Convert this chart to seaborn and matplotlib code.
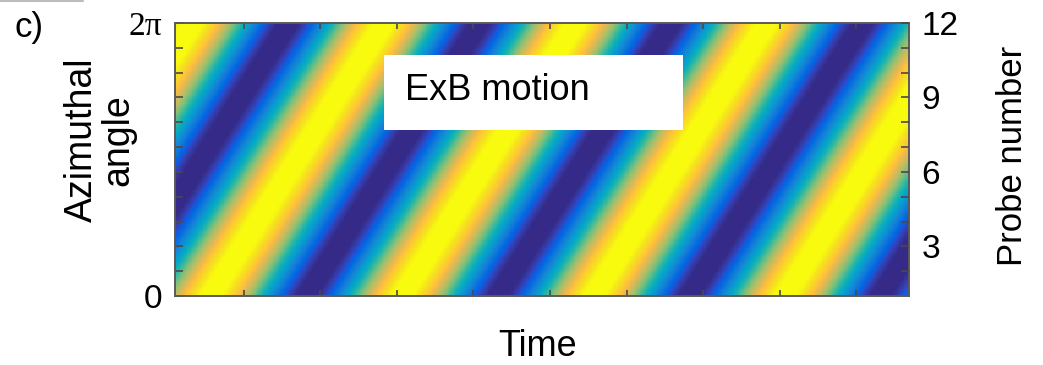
import numpy as np
import matplotlib
matplotlib.use("Agg")
import matplotlib.pyplot as plt
from matplotlib.colors import LinearSegmentedColormap
from matplotlib.patches import Rectangle
from matplotlib.lines import Line2D
import seaborn as sns

# ---------------- data ----------------
probe_numbers = [1, 2, 3, 4, 5, 6, 7, 8, 9, 10, 11, 12]
# time of the first maximum (yellow crest) seen at each probe
peak_times = [0.57, 0.78, 0.98, 1.19, 1.39, 1.60, 1.80, 2.01, 2.21, 2.42, 2.62, 2.83]
wave_period = 2.5
time_range = [0.11, 9.68]
n_time_samples = 600
n_probe_samples = 240
time_ticks = [1, 2, 3, 4, 5, 6, 7, 8, 9]
angle_tick_labels = ["0", "2π"]
probe_tick_values = [3, 6, 9, 12]
probe_minor_ticks = [2, 4, 5, 7, 8, 10, 11]
color_limits = [-0.95, 0.95]
annotation_text = "ExB motion"
panel_label = "c)"

# MATLAB parula colormap anchors
parula_anchors = [
    (0.2081, 0.1663, 0.5292), (0.2081, 0.2386, 0.6771), (0.1253, 0.3242, 0.8303),
    (0.0591, 0.3598, 0.8683), (0.0060, 0.4086, 0.8828), (0.0498, 0.4586, 0.8641),
    (0.0779, 0.5040, 0.8384), (0.0641, 0.5570, 0.8240), (0.0265, 0.6137, 0.8135),
    (0.0228, 0.6535, 0.7768), (0.0590, 0.6838, 0.7254), (0.1453, 0.7098, 0.6646),
    (0.2586, 0.7317, 0.5954), (0.3953, 0.7459, 0.5244), (0.5300, 0.7491, 0.4661),
    (0.6473, 0.7456, 0.4188), (0.7525, 0.7384, 0.3768), (0.8507, 0.7299, 0.3360),
    (0.9450, 0.7261, 0.2886), (0.9990, 0.7653, 0.2164), (0.9789, 0.8271, 0.1633),
    (0.9589, 0.8949, 0.1132), (0.9763, 0.9831, 0.0538),
]
parula_pos = [0, 3, 6, 7, 9, 12, 15, 18, 21, 24, 27, 30, 33, 36, 39, 42, 45, 48, 51, 54, 57, 60, 63]
parula = LinearSegmentedColormap.from_list(
    "parula", [(p / 63.0, c) for p, c in zip(parula_pos, parula_anchors)], N=256)

# ---------------- field (m = 1 wave travelling over the probe ring) ----------------
t = np.linspace(time_range[0], time_range[1], n_time_samples)
dt = t[1] - t[0]
# crest drift fitted to the crest times read at the probes (ExB rotation speed)
drift, crest0 = np.polyfit(probe_numbers, peak_times, 1)
probe_pos = np.linspace(probe_numbers[0], probe_numbers[-1], n_probe_samples)
crest = crest0 + drift * probe_pos
field = np.cos(2 * np.pi * (t[None, :] - crest[:, None]) / wave_period)  # row 0 = probe 1

# ---------------- figure ----------------
sns.set_style("white")
plt.rcParams["font.family"] = ["Liberation Sans", "DejaVu Sans"]
plt.rcParams["text.color"] = "black"
plt.rcParams["axes.labelcolor"] = "black"
plt.rcParams["xtick.color"] = "black"
plt.rcParams["ytick.color"] = "black"
plt.rcParams["axes.axisbelow"] = False

W, H = 1043, 365
fig = plt.figure(figsize=(W / 100, H / 100), dpi=100)
x0, x1, y0, y1 = 175, 909, 23, 296
ax = fig.add_axes([x0 / W, 1 - y1 / H, (x1 - x0) / W, (y1 - y0) / H])

sns.heatmap(field, ax=ax, cmap=parula, vmin=color_limits[0], vmax=color_limits[1],
            cbar=False, xticklabels=False, yticklabels=False, rasterized=True)
ax.set_axisbelow(False)

nrows, ncols = field.shape
ax.set_xlim(0, ncols)
ax.set_ylim(0, nrows)  # row 0 (probe 1) at the bottom

# right axis (probe number)
ax2 = ax.twinx()
ax2.set_ylim(probe_numbers[0], probe_numbers[-1])

frame_col = "#5a5a5a"
tick_col = "#4a4a4a"
for a in (ax, ax2):
    for s in a.spines.values():
        s.set_visible(True)
        s.set_color(frame_col)
        s.set_linewidth(1.2)

# x ticks (no labels)
ax.set_xticks([(k - time_range[0]) / dt + 0.5 for k in time_ticks])
ax.set_xticklabels([])
ax.tick_params(axis="x", which="both", direction="in", top=True, bottom=True,
               length=4, width=1.2, color=tick_col)

# left: azimuthal angle (same grid as probes)
row_of = lambda p: (p - probe_numbers[0]) / (probe_numbers[-1] - probe_numbers[0]) * nrows
ax.set_yticks([0, nrows])
ax.set_yticklabels(angle_tick_labels)
ax.set_yticks([row_of(p) for p in probe_numbers[1:-1]], minor=True)
ax.yaxis.set_ticks_position("left")
ax.tick_params(axis="y", which="both", direction="in", left=True, right=False,
               length=6, width=1.2, color=tick_col, labelsize=24, pad=9,
               labelcolor="black", labelleft=True)
for lbl in ax.get_yticklabels():
    if lbl.get_text() == "2π":
        lbl.set_fontfamily(["Liberation Serif", "DejaVu Serif"])

# right: probe number ticks
ax2.set_yticks(probe_tick_values)
ax2.set_yticklabels([str(v) for v in probe_tick_values])
ax2.set_yticks(probe_minor_ticks, minor=True)
ax2.tick_params(axis="y", which="both", direction="in", right=True, left=False,
                length=6, width=1.2, color=tick_col, labelsize=24, pad=9,
                labelcolor="black")

# annotation box
bx0, bx1, by0, by1 = 384, 683, 55, 130
ax.add_patch(Rectangle(((bx0 - x0) / (x1 - x0), (y1 - by1) / (y1 - y0)),
                       (bx1 - bx0) / (x1 - x0), (by1 - by0) / (y1 - y0),
                       transform=ax.transAxes, facecolor="white", edgecolor="none",
                       zorder=5))
ax.text((405 - x0) / (x1 - x0), (y1 - 100) / (y1 - y0), annotation_text,
        transform=ax.transAxes, fontsize=26, ha="left", va="baseline", zorder=6,
        color="black")

# labels
fig.text(100 / W, 1 - 140 / H, "Azimuthal\nangle", rotation=90, fontsize=27,
         ha="center", va="center", multialignment="center", linespacing=1.0)
fig.text(1012 / W, 1 - 156 / H, "Probe number", rotation=90, fontsize=25,
         ha="center", va="center")
fig.text(538 / W, 1 - 347 / H, "Time", fontsize=26, ha="center", va="center")
fig.text(15 / W, 1 - 28 / H, panel_label, fontsize=25, ha="left", va="center")
fig.add_artist(Line2D([0, 83 / W], [1 - 1 / H, 1 - 1 / H], color="#bdbdbd", lw=1.5))

fig.savefig("out.png", dpi=100)
